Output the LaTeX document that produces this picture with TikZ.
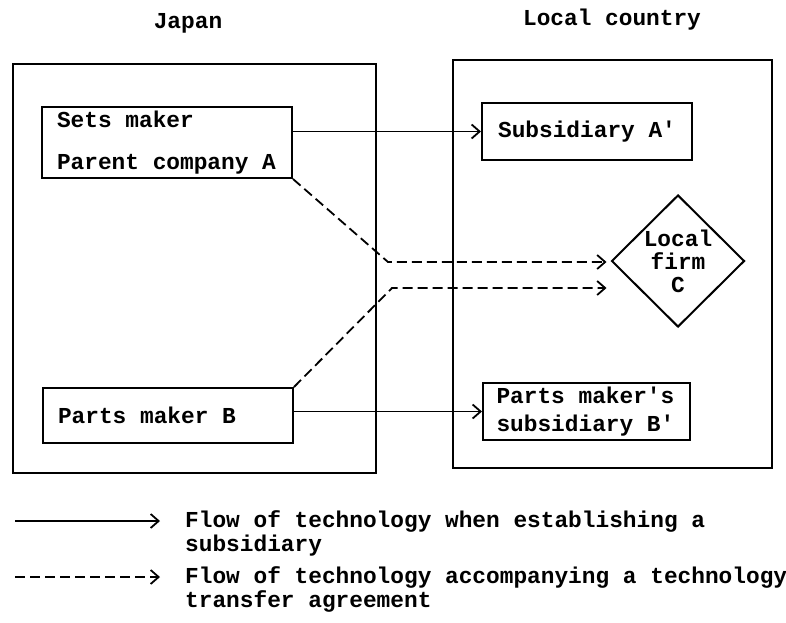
\documentclass[tikz,border=0pt]{standalone}
\usepackage{fontspec}
\usepackage{xcolor}
\newfontfamily\typew{Liberation Mono}
\newcommand\twfont[1]{\typew\bfseries\fontsize{22.8}{#1}\selectfont\spaceskip=13.68pt\relax}
\usetikzlibrary{shapes.geometric,arrows.meta,calc}

\begin{document}
\begin{tikzpicture}[x=1pt,y=-1pt]
    \tikzstyle{every node}=[font=\twfont{23}]
    \tikzstyle{frame}=[line width=2.2pt]
    \tikzstyle{firm}=[rectangle,draw,line width=2pt,align=flush left,inner ysep=0pt]
    \tikzstyle{flow}=[line width=1.8pt,-{Straight Barb[length=8pt,width=14pt,line width=1.8pt]}]
    \tikzstyle{agree}=[flow,dash pattern=on 10pt off 5pt]
    \useasboundingbox (0,0) rectangle (786,622);
    \node (japan) at (188,23) {Japan};
    \node (local) at (612,20) {Local country};
    \draw[frame] (13,64) rectangle (376,473);
    \draw[frame] (453,60) rectangle (772,468);
    \node[firm,minimum width=250pt,minimum height=71pt,text width=220pt] (setsA) at (167,142.5)
        {Sets maker\\[19pt]Parent company A};
    \node[firm,minimum width=210pt,minimum height=57pt,text width=180pt,align=flush center] (subA) at (587,131.5)
        {Subsidiary A'};
    \node[diamond,draw,line width=2pt,minimum width=133pt,minimum height=132pt,inner sep=0pt,align=center] (firmC) at (678,261)
        {Local\\firm\\C};
    \node[firm,minimum width=250pt,minimum height=55pt,text width=220pt] (partsB) at (168,415.5)
        {Parts maker B};
    \node[firm,minimum width=207pt,minimum height=57pt,text width=180pt] (subB) at (586.5,411.5)
        {Parts maker's\\[5pt]subsidiary B'};
    \coordinate (bendA) at (388,262);
    \coordinate (bendB) at (392,288);
    \coordinate (tipA) at ($(firmC.west)+(-4,1)$);
    \coordinate (tipB) at ($(firmC.west)+(-4,27)$);
    \draw[flow] (setsA.east |- subA.west) -- (subA.west);
    \draw[flow] (partsB.east |- subB.west) -- (subB.west);
    \draw[agree] (setsA.south east) -- (bendA) -- (tipA);
    \draw[agree] (partsB.north east) -- (bendB) -- (tipB);
    \coordinate (solidL) at (15,521);
    \coordinate (solidR) at (160,521);
    \coordinate (dashL) at (15,577);
    \coordinate (dashR) at (160,577);
    \draw[flow] (solidL) -- (solidR);
    \draw[agree] (dashL) -- (dashR);
    \node[anchor=west,align=left,inner sep=0pt,font=\twfont{24}] (solidtxt) at (185,533)
        {Flow of technology when establishing a\\subsidiary};
    \node[anchor=west,align=left,inner sep=0pt,font=\twfont{24}] (dashtxt) at (185,589)
        {Flow of technology accompanying a technology\\transfer agreement};
\end{tikzpicture}
\end{document}
